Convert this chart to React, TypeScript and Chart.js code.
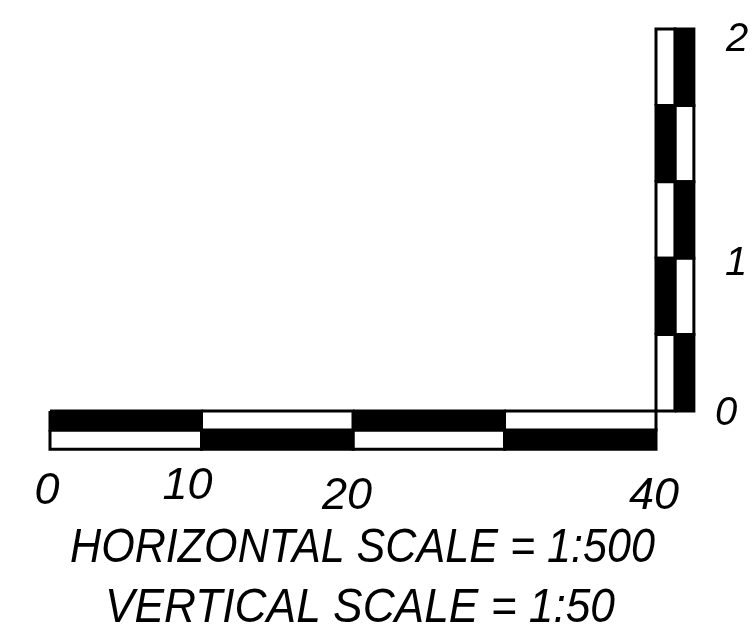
import React, { useEffect, useRef } from "react";
import { Chart, registerables } from "chart.js";

Chart.register(...registerables);

// ---- data ----
const H_EDGES = [0, 10, 20, 30, 40]; // horizontal scale segment edges (m)
const H_ROW_EDGES = [0, -0.1, -0.2]; // horizontal bar rows (in vertical units)
const H_TOP_FILLED = [true, false, true, false];
const H_BOTTOM_FILLED = [false, true, false, true];

const V_EDGES = [0, 0.4, 0.8, 1.2, 1.6, 2.0]; // vertical scale segment edges (m)
const V_COL_EDGES = [40, 41.25, 42.5]; // vertical bar columns (in horizontal units)
const V_LEFT_FILLED = [false, true, false, true, false];
const V_RIGHT_FILLED = [true, false, true, false, true];

const H_TICK_VALUES = [0, 10, 20, 40];
const H_TICK_LABELS = ["0", "10", "20", "40"];
const V_TICK_VALUES = [0, 1, 2];
const V_TICK_LABELS = ["0", "1", "2"];
const CAPTIONS = ["HORIZONTAL SCALE = 1:500", "VERTICAL SCALE = 1:50"];

// ---- layout / style ----
const W = 753;
const H = 632;
const FONT_FAMILY = '"Liberation Sans", Arial, sans-serif';
const H_TICK_NUDGE = [[-3, 93], [-14, 88], [-6, 98], [-2, 98]]; // [dx, dy] px from value position
const V_TICK_NUDGE = [[70, 14], [80, 55], [81, 22]];
const CAPTION_BOX = [[70, 655, 562], [105, 615, 622]]; // left, right, baseline

function rect(x0: number, x1: number, y0: number, y1: number) {
  return [
    { x: x0, y: y0 },
    { x: x1, y: y0 },
    { x: x1, y: y1 },
    { x: x0, y: y1 },
    { x: x0, y: y0 },
  ];
}

function cellDataset(data: { x: number; y: number }[], filled: boolean) {
  return {
    data,
    fill: "shape",
    backgroundColor: filled ? "#000" : "#fff",
    borderColor: "#000",
    borderWidth: 3,
    borderJoinStyle: "miter",
    pointRadius: 0,
    tension: 0,
    clip: false,
  };
}

function buildDatasets() {
  const ds: any[] = [];
  for (let i = 0; i < H_EDGES.length - 1; i++) {
    ds.push(cellDataset(rect(H_EDGES[i], H_EDGES[i + 1], H_ROW_EDGES[0], H_ROW_EDGES[1]), H_TOP_FILLED[i]));
    ds.push(cellDataset(rect(H_EDGES[i], H_EDGES[i + 1], H_ROW_EDGES[1], H_ROW_EDGES[2]), H_BOTTOM_FILLED[i]));
  }
  for (let i = 0; i < V_EDGES.length - 1; i++) {
    ds.push(cellDataset(rect(V_COL_EDGES[0], V_COL_EDGES[1], V_EDGES[i], V_EDGES[i + 1]), V_LEFT_FILLED[i]));
    ds.push(cellDataset(rect(V_COL_EDGES[1], V_COL_EDGES[2], V_EDGES[i], V_EDGES[i + 1]), V_RIGHT_FILLED[i]));
  }
  return ds;
}

const textPlugin = {
  id: "scaleText",
  afterDatasetsDraw(chart: any) {
    const ctx = chart.ctx;
    const xs = chart.scales.x;
    const ys = chart.scales.y;
    ctx.save();
    ctx.fillStyle = "#000";
    ctx.textAlign = "center";
    ctx.textBaseline = "alphabetic";
    ctx.font = `italic 45px ${FONT_FAMILY}`;
    H_TICK_VALUES.forEach((v, i) => {
      const px = xs.getPixelForValue(v) + H_TICK_NUDGE[i][0];
      const py = ys.getPixelForValue(0) + H_TICK_NUDGE[i][1];
      ctx.fillText(H_TICK_LABELS[i], px, py);
    });
    ctx.font = `italic 40px ${FONT_FAMILY}`;
    V_TICK_VALUES.forEach((v, i) => {
      const px = xs.getPixelForValue(40) + V_TICK_NUDGE[i][0];
      const py = ys.getPixelForValue(v) + V_TICK_NUDGE[i][1];
      ctx.fillText(V_TICK_LABELS[i], px, py);
    });
    ctx.font = `italic 49px ${FONT_FAMILY}`;
    ctx.textAlign = "left";
    CAPTIONS.forEach((t, i) => {
      const [l, r, b] = CAPTION_BOX[i];
      const w = ctx.measureText(t).width;
      const s = (r - l) / w;
      ctx.save();
      ctx.translate(l, b);
      ctx.scale(s, 1);
      ctx.fillText(t, 0, 0);
      ctx.restore();
    });
    ctx.restore();
  },
};

export default function App() {
  const ref = useRef<HTMLCanvasElement | null>(null);
  useEffect(() => {
    if (!ref.current) return;
    // pixel mapping: x 0 -> 50px, 40 -> 656px ; y 0 -> 411px, 2 -> 29px
    const xPer = (656 - 50) / 40;
    const yPer = (411 - 29) / 2;
    const chart = new Chart(ref.current, {
      type: "line",
      data: { datasets: buildDatasets() },
      options: {
        animation: false,
        responsive: false,
        devicePixelRatio: 1,
        layout: { padding: 0 },
        plugins: { legend: { display: false }, tooltip: { enabled: false }, title: { display: false } },
        scales: {
          x: { type: "linear", display: false, min: -50 / xPer, max: (W - 50) / xPer },
          y: { type: "linear", display: false, min: -(H - 411) / yPer, max: 411 / yPer },
        },
      } as any,
      plugins: [textPlugin],
    });
    return () => chart.destroy();
  }, []);
  return (
    <div style={{ position: "absolute", left: 0, top: 0, width: W, height: H, background: "#fff" }}>
      <canvas ref={ref} width={W} height={H} />
    </div>
  );
}
